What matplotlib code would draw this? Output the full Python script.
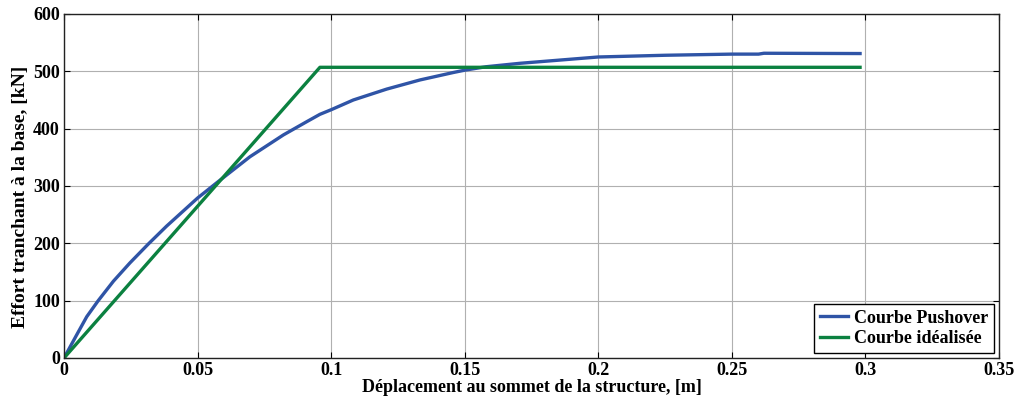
import numpy as np
import matplotlib.pyplot as plt

# --- data ---
disp_push = [0, 0.0047, 0.0085, 0.0128, 0.0185, 0.0247, 0.0316, 0.0384, 0.05,
             0.057, 0.0696, 0.0821, 0.0908, 0.0958, 0.1, 0.1083, 0.1208,
             0.1333, 0.1458, 0.15, 0.158, 0.1707, 0.2, 0.225, 0.25, 0.26,
             0.262, 0.298]
force_push = [0, 40, 72, 100, 134, 166, 199, 230, 279,
              305, 351, 389, 412, 425, 433, 450, 469,
              485, 498, 502, 508, 514, 525, 528, 530, 530,
              531.5, 531]

disp_ideal = [0, 0.0958, 0.298]
force_ideal = [0, 507, 507]

xticks = [0, 0.05, 0.1, 0.15, 0.2, 0.25, 0.3, 0.35]
xticklabels = ["0", "0.05", "0.1", "0.15", "0.2", "0.25", "0.3", "0.35"]
yticks = [0, 100, 200, 300, 400, 500, 600]

plt.rcParams['font.family'] = ['Liberation Serif', 'DejaVu Serif']
plt.rcParams['font.weight'] = 'bold'

fig = plt.figure(figsize=(10.18, 4.03), dpi=100)
ax = fig.add_axes([0.0629, 0.1117, 0.9184, 0.8536])

ax.plot(disp_push, force_push, color="#2f54a6", lw=2.4, label="Courbe Pushover")
ax.plot(disp_ideal, force_ideal, color="#0b8140", lw=2.4, label="Courbe idéalisée")

ax.set_xlim(0, 0.35)
ax.set_ylim(0, 600)
ax.set_xticks(xticks)
ax.set_xticklabels(xticklabels)
ax.set_yticks(yticks)
ax.tick_params(direction="in", top=True, right=True, labelsize=13, length=4, pad=3)
for lab in ax.get_xticklabels() + ax.get_yticklabels():
    lab.set_fontweight("bold")
ax.grid(True, color="#b0b0b0", lw=0.8)
for s in ax.spines.values():
    s.set_linewidth(1.0)
    s.set_color("#222222")

ax.set_xlabel("Déplacement au sommet de la structure, [m]", fontsize=13,
              fontweight="bold", labelpad=0)
ax.set_ylabel("Effort tranchant à la base, [kN]", fontsize=14, fontweight="bold")
ax.yaxis.set_label_coords(-0.037, 0.468)

leg = ax.legend(loc="lower right", fontsize=13, fancybox=False, framealpha=1,
                edgecolor="black", borderaxespad=0.3, handlelength=1.6,
                handletextpad=0.3, borderpad=0.3, labelspacing=0.2)
leg.get_frame().set_linewidth(1.0)
for t in leg.get_texts():
    t.set_fontweight("bold")

fig.savefig("out.png", dpi=100)
